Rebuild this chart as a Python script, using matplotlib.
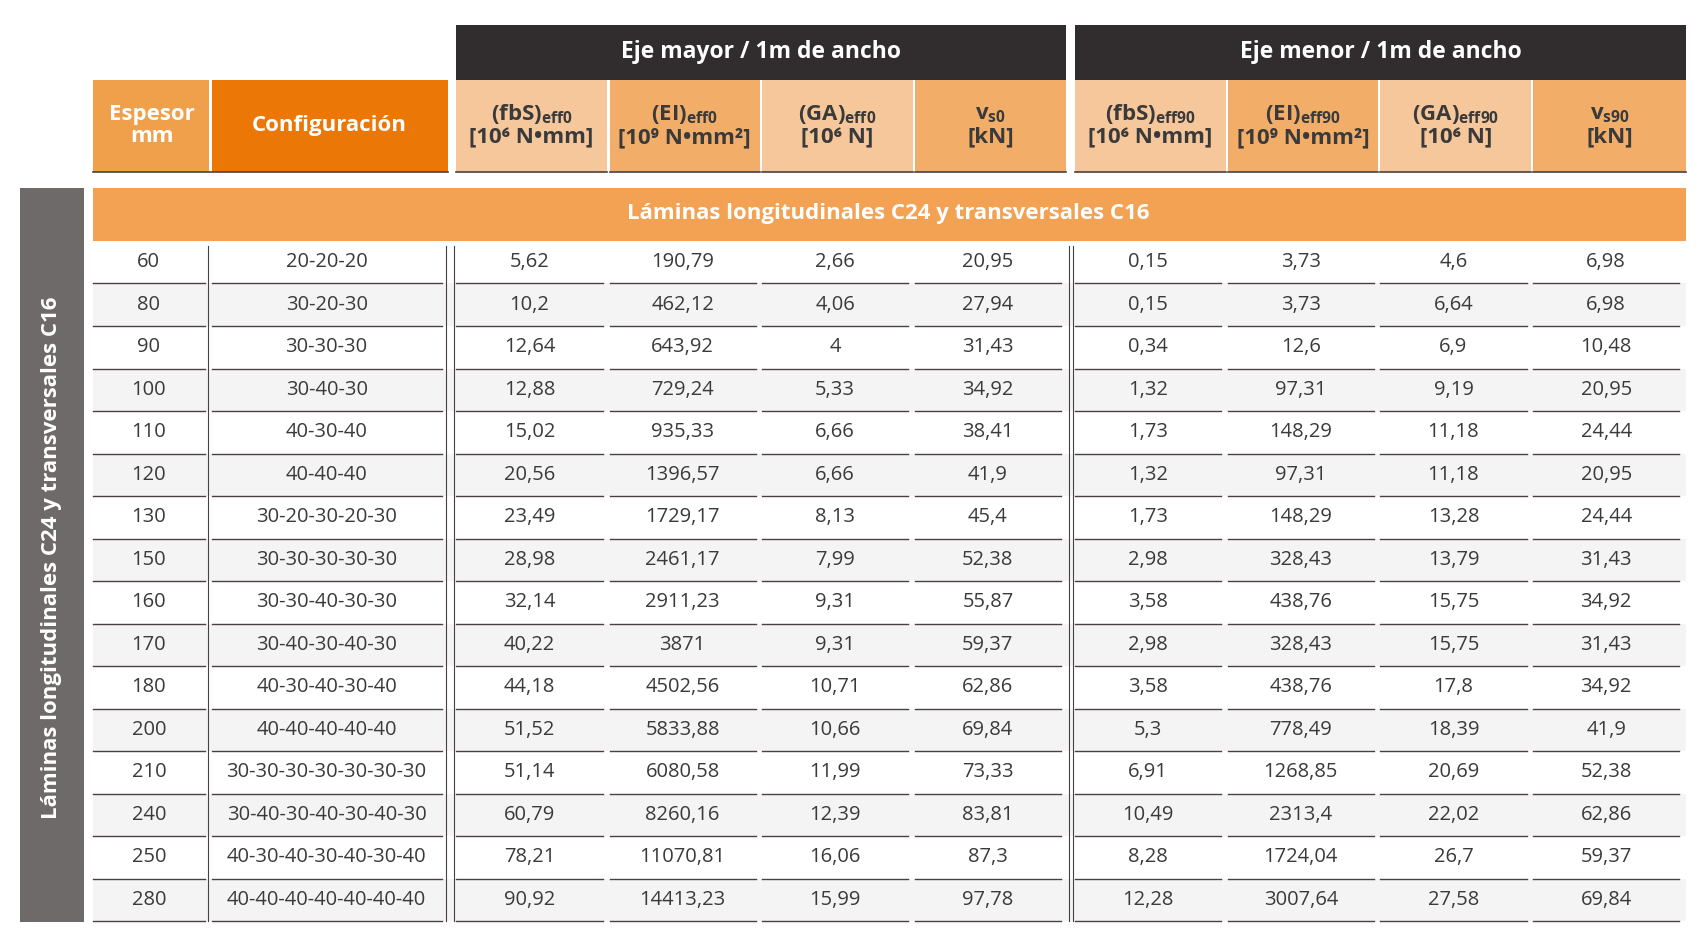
import matplotlib
matplotlib.use("Agg")
import matplotlib.pyplot as plt
from matplotlib.patches import Rectangle

plt.rcParams["font.family"] = "Open Sans"
plt.rcParams["mathtext.fontset"] = "custom"
plt.rcParams["mathtext.rm"] = "Open Sans"
plt.rcParams["mathtext.bf"] = "Open Sans:bold"

espesor = [60, 80, 90, 100, 110, 120, 130, 150, 160, 170, 180, 200, 210, 240, 250, 280]
config = ["20-20-20", "30-20-30", "30-30-30", "30-40-30", "40-30-40", "40-40-40",
          "30-20-30-20-30", "30-30-30-30-30", "30-30-40-30-30", "30-40-30-40-30",
          "40-30-40-30-40", "40-40-40-40-40", "30-30-30-30-30-30-30",
          "30-40-30-40-30-40-30", "40-30-40-30-40-30-40", "40-40-40-40-40-40-40"]
fbs0 = ["5,62", "10,2", "12,64", "12,88", "15,02", "20,56", "23,49", "28,98", "32,14",
        "40,22", "44,18", "51,52", "51,14", "60,79", "78,21", "90,92"]
ei0 = ["190,79", "462,12", "643,92", "729,24", "935,33", "1396,57", "1729,17", "2461,17",
       "2911,23", "3871", "4502,56", "5833,88", "6080,58", "8260,16", "11070,81", "14413,23"]
ga0 = ["2,66", "4,06", "4", "5,33", "6,66", "6,66", "8,13", "7,99", "9,31", "9,31",
       "10,71", "10,66", "11,99", "12,39", "16,06", "15,99"]
vs0 = ["20,95", "27,94", "31,43", "34,92", "38,41", "41,9", "45,4", "52,38", "55,87",
       "59,37", "62,86", "69,84", "73,33", "83,81", "87,3", "97,78"]
fbs90 = ["0,15", "0,15", "0,34", "1,32", "1,73", "1,32", "1,73", "2,98", "3,58", "2,98",
         "3,58", "5,3", "6,91", "10,49", "8,28", "12,28"]
ei90 = ["3,73", "3,73", "12,6", "97,31", "148,29", "97,31", "148,29", "328,43", "438,76",
        "328,43", "438,76", "778,49", "1268,85", "2313,4", "1724,04", "3007,64"]
ga90 = ["4,6", "6,64", "6,9", "9,19", "11,18", "11,18", "13,28", "13,79", "15,75", "15,75",
        "17,8", "18,39", "20,69", "22,02", "26,7", "27,58"]
vs90 = ["6,98", "6,98", "10,48", "20,95", "24,44", "20,95", "24,44", "31,43", "34,92",
        "31,43", "34,92", "41,9", "52,38", "62,86", "59,37", "69,84"]

headers0 = [r"$\mathbf{(fbS)_{eff0}}$" + "\n[10⁶ N•mm]", r"$\mathbf{(EI)_{eff0}}$" + "\n[10⁹ N•mm²]",
            r"$\mathbf{(GA)_{eff0}}$" + "\n[10⁶ N]", r"$\mathbf{v_{s0}}$" + "\n[kN]"]
headers90 = [r"$\mathbf{(fbS)_{eff90}}$" + "\n[10⁶ N•mm]", r"$\mathbf{(EI)_{eff90}}$" + "\n[10⁹ N•mm²]",
             r"$\mathbf{(GA)_{eff90}}$" + "\n[10⁶ N]", r"$\mathbf{v_{s90}}$" + "\n[kN]"]

W, H = 1560.0, 853.0
fig = plt.figure(figsize=(17.01, 9.30), dpi=100)
ax = fig.add_axes([0, 0, 1, 1])
ax.set_xlim(0, W)
ax.set_ylim(H, 0)
ax.axis("off")

DARK, GREY, ORANGE, ORANGE2 = "#312c2d", "#6e6a6a", "#eb7707", "#f0a04b"
PEACH, PEACH2, BAND, LINE = "#f6c79a", "#f2ae68", "#f2a252", "#4a4040"
TXT = "#3a3a3a"


def box(x0, x1, y0, y1, c):
    ax.add_patch(Rectangle((x0, y0), x1 - x0, y1 - y0, color=c, lw=0))


# group headers
box(418, 978, 23, 73, DARK)
box(986, 1546, 23, 73, DARK)
ax.text(698, 48, "Eje mayor / 1m de ancho", color="white", fontsize=16.5, weight="bold", ha="center", va="center")
ax.text(1266, 48, "Eje menor / 1m de ancho", color="white", fontsize=16.5, weight="bold", ha="center", va="center")

# column headers
box(85, 192, 73, 158, ORANGE2)
box(194, 411, 73, 158, ORANGE)
ax.text(139, 115, "Espesor\nmm", color="white", fontsize=16, weight="bold", ha="center", va="center", linespacing=1.1)
ax.text(302, 115, "Configuración", color="white", fontsize=16, weight="bold", ha="center", va="center")
ax.plot([85, 411], [158, 158], color=LINE, lw=1.2)

data_cols = [(418, 557), (559, 697), (699, 837), (839, 978),
             (986, 1124), (1126, 1264), (1266, 1404), (1406, 1546)]
for i, ((x0, x1), lab) in enumerate(zip(data_cols, headers0 + headers90)):
    box(x0, x1, 73, 158, PEACH if i % 2 == 0 else PEACH2)
    ax.text((x0 + x1) / 2, 115, lab, color=TXT, fontsize=16, weight="bold", ha="center", va="center",
            linespacing=1.1)
    ax.plot([x0, x1], [158, 158], color=LINE, lw=1.2)

# band + side label
box(85, 1546, 172, 221, BAND)
ax.text(815, 196, "Láminas longitudinales C24 y transversales C16", color="white", fontsize=16,
        weight="bold", ha="center", va="center")
box(18, 77, 172, 846, GREY)
ax.text(47, 512, "Láminas longitudinales C24 y transversales C16", color="white", fontsize=16,
        weight="bold", ha="center", va="center", rotation=90)

# body
cell_cols = [(85, 188), (194, 405), (418, 553), (559, 693), (699, 833), (839, 973),
             (986, 1120), (1126, 1260), (1266, 1400), (1406, 1540)]
columns = [espesor, config, fbs0, ei0, ga0, vs0, fbs90, ei90, ga90, vs90]
top, rh = 221, 39.0
for r in range(len(espesor)):
    y0 = top + r * rh
    if r % 2 == 1:
        box(85, 1546, y0, y0 + rh, "#f4f4f4")
    for (x0, x1), col in zip(cell_cols, columns):
        ax.text((x0 + x1) / 2, y0 + rh / 2, str(col[r]), color=TXT, fontsize=14.5, ha="center", va="center")
        ax.plot([x0, x1], [y0 + rh, y0 + rh], color=LINE, lw=1.0)

ybot = top + len(espesor) * rh
for x in [191, 409, 416, 980, 984]:
    ax.plot([x, x], [top + 5, ybot], color=LINE, lw=0.8)

fig.savefig("out.png", dpi=100, facecolor="white")
